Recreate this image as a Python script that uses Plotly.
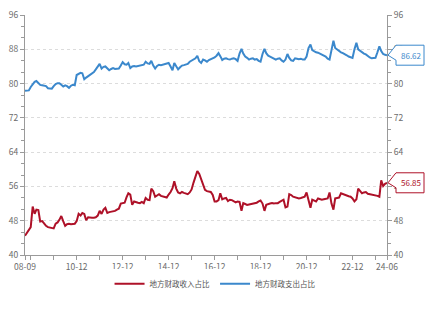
import pandas as pd
import plotly.graph_objects as go

# ---- data (monthly, 2008-09 .. 2024-06) ----
months = pd.date_range("2008-09-01", periods=190, freq="MS")

revenue_share = [
    44.5, 45.2, 45.8, 46.5,
    51.3, 49.6, 50.6, 50.5, 47.8, 47.9, 47.4, 46.8, 46.5, 46.4, 46.3, 46.2,
    47.3, 47.6, 48.2, 49.1, 47.9, 46.8, 47.2, 47.3, 47.2, 47.3, 47.3, 47.9,
    49.6, 49.2, 49.8, 49.6, 48.1, 48.8, 48.7, 48.7, 48.7, 48.8, 49.2, 50.3,
    49.6, 50.6, 51.0, 49.8, 50.0, 50.1, 50.2, 50.3, 50.6, 50.8, 52.0, 52.1,
    52.2, 53.5, 54.4, 54.1, 51.7, 52.5, 52.3, 52.2, 52.1, 52.4, 52.1, 53.3,
    52.9, 52.8, 55.5, 54.9, 53.6, 54.0, 54.2, 53.8, 53.6, 53.5, 53.4, 54.1,
    54.7, 55.6, 57.2, 55.5, 54.6, 54.4, 54.7, 54.5, 54.4, 54.2, 54.6, 55.3,
    56.9, 58.6, 59.6, 58.9, 57.6, 56.3, 55.2, 54.9, 54.8, 54.7, 54.0, 52.5,
    52.5, 52.8, 54.4, 53.0, 53.2, 53.3, 52.6, 52.9, 52.8, 52.5, 52.3, 52.5,
    52.4, 50.3, 52.1, 51.9, 51.7, 51.8, 51.9, 52.0, 52.1, 52.2, 52.5, 52.7,
    52.0, 50.3, 51.7, 51.9, 52.0, 52.1, 52.0, 52.1, 52.1, 52.4, 52.6, 52.9,
    51.1, 51.3, 54.2, 54.0, 53.6, 53.5, 53.4, 53.2, 53.3, 53.5, 53.6, 54.6,
    52.5, 51.0, 52.9, 52.6, 52.5, 53.2, 53.0, 52.9, 53.0, 53.1, 53.2, 54.6,
    52.0, 50.6, 53.2, 53.3, 53.4, 54.4, 54.2, 54.1, 53.9, 53.7, 53.6, 53.2,
    52.5, 53.0, 55.5, 54.8, 54.4, 54.6, 54.7, 54.3, 54.2, 54.2, 54.1, 54.0,
    53.8, 53.6, 57.4, 56.1, 56.6, 56.85,
]

expenditure_share = [
    78.3, 78.3, 78.4, 79.2,
    79.9, 80.4, 80.6, 80.0, 79.7, 79.6, 79.5, 79.4, 78.9, 78.8, 78.8, 79.4,
    79.9, 80.1, 80.1, 79.7, 79.3, 79.6, 79.4, 79.0, 79.5, 79.7, 79.6, 82.0,
    82.3, 82.5, 82.4, 81.0, 81.4, 81.7, 82.0, 82.3, 82.7, 83.3, 84.0, 84.6,
    83.5, 83.9, 84.0, 83.6, 83.1, 83.4, 83.6, 83.4, 83.5, 83.5, 84.2, 85.0,
    84.5, 84.4, 84.8, 83.6, 84.0, 84.1, 84.0, 84.1, 84.1, 84.2, 84.4, 85.1,
    84.7, 84.6, 85.3, 84.2, 83.5, 84.1, 84.4, 84.3, 84.4, 84.5, 84.6, 84.8,
    84.0, 83.1, 84.8, 84.0, 83.3, 83.8, 84.2, 84.3, 84.5, 84.6, 85.1, 85.4,
    85.6, 85.9, 86.5, 85.2, 84.8, 85.6, 85.4, 85.1, 85.5, 85.7, 85.9, 86.1,
    86.5, 87.1, 86.4, 85.5, 85.8, 85.9, 85.7, 85.6, 85.8, 85.9, 85.7, 85.3,
    87.0, 88.1, 87.0, 86.3, 86.0, 85.6, 85.8, 85.9, 85.6, 85.7, 85.3, 85.1,
    86.9, 88.1, 87.1, 86.5, 86.3, 86.1, 85.8, 85.6, 85.8, 85.9, 85.4, 85.1,
    85.6, 86.9, 86.0, 85.4, 85.3, 85.9, 85.8, 85.7, 85.8, 85.6, 85.6, 86.3,
    88.3, 89.1, 87.8, 87.5, 87.3, 87.2, 87.0, 86.8, 86.6, 86.3, 85.8, 85.6,
    87.8, 90.0, 88.3, 87.9, 87.6, 87.3, 87.1, 86.9, 86.6, 86.3, 86.1, 86.0,
    88.0, 89.5, 88.0, 87.6, 87.3, 87.0, 86.8, 86.4, 86.1, 85.9, 85.9, 86.0,
    87.3, 88.7, 87.6, 86.9, 86.7, 86.62,
]

series_names = ["地方财政收入占比", "地方财政支出占比"]
tick_dates = ["2008-09-01", "2010-12-01", "2012-12-01", "2014-12-01", "2016-12-01",
              "2018-12-01", "2020-12-01", "2022-12-01", "2024-06-01"]
tick_labels = ["08-09", "10-12", "12-12", "14-12", "16-12", "18-12", "20-12", "22-12", "24-06"]
y_ticks = [40, 48, 56, 64, 72, 80, 88, 96]

RED = "#ae1128"
BLUE = "#3b88cc"
AXIS = "#9a9a9a"
TXT = "#6b6b6b"
FONT = "Noto Sans CJK SC, sans-serif"

fig = go.Figure()
fig.add_trace(go.Scatter(x=months, y=revenue_share, name=series_names[0], mode="lines",
                         line=dict(color=RED, width=2), yaxis="y"))
fig.add_trace(go.Scatter(x=months, y=expenditure_share, name=series_names[1], mode="lines",
                         line=dict(color=BLUE, width=2), yaxis="y2"))

yax_common = dict(range=[y_ticks[0], y_ticks[-1]], tickvals=y_ticks, ticks="outside", ticklen=4,
                  tickcolor=AXIS, showline=True, linecolor=AXIS, linewidth=1, zeroline=False,
                  tickfont=dict(size=8.5, color=TXT, family=FONT),
                  minor=dict(dtick=8 / 3, ticks="outside", ticklen=3, tickcolor=AXIS, showgrid=False))

fig.update_layout(
    width=439, height=309,
    margin=dict(l=25, r=52, t=8, b=54),
    paper_bgcolor="white", plot_bgcolor="white",
    font=dict(family=FONT),
    xaxis=dict(type="date", range=[months[0], months[-1]], tickvals=tick_dates, ticktext=tick_labels,
               ticks="outside", ticklen=4, tickcolor=AXIS, showline=True, linecolor=AXIS, linewidth=1,
               showgrid=False, zeroline=False, tickfont=dict(size=8.5, color=TXT, family=FONT),
               minor=dict(dtick="M12", tick0="2008-12-01", ticks="outside", ticklen=4,
                          tickcolor=AXIS, showgrid=False)),
    yaxis=dict(**yax_common, side="left", showgrid=True, gridcolor="#dcdcdc", griddash="dot", gridwidth=1),
    yaxis2=dict(**yax_common, side="right", overlaying="y", showgrid=False),
    legend=dict(orientation="h", x=0.525, xanchor="center", y=-0.12, yanchor="middle",
                font=dict(size=7.5, color="#555", family=FONT), itemwidth=30),
    showlegend=True,
)

# end-value tags, anchored at the right edge of the plot and at the last value
tag_path = "M1,0 L9,10 L37,10 L37,-10 L9,-10 L9,-5 Z"
for yref, val, col in (("y2", expenditure_share[-1], BLUE), ("y", revenue_share[-1], RED)):
    fig.add_shape(type="path", xref="paper", yref=yref, xsizemode="pixel", ysizemode="pixel",
                  xanchor=1, yanchor=val, path=tag_path,
                  line=dict(color=col, width=1), fillcolor="white", layer="above")
    fig.add_annotation(x=months[-1], y=val, xref="x", yref=yref,
                       text=f"{val:.2f}", showarrow=False, xanchor="center", xshift=24,
                       font=dict(size=8, color=col, family=FONT))

fig.write_html("out.html")
